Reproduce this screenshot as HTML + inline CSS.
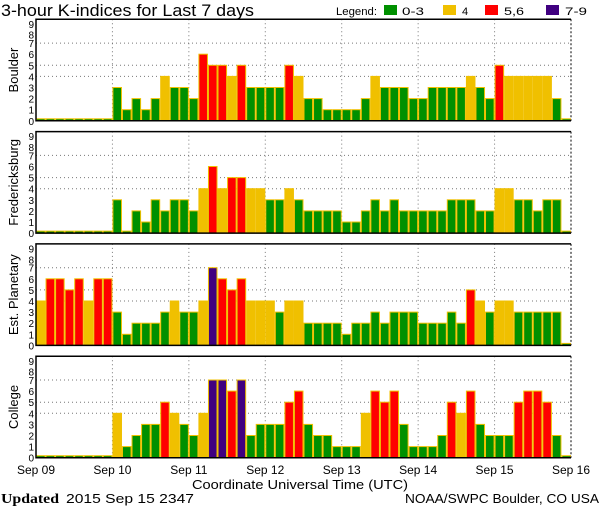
<!DOCTYPE html>
<html><head><meta charset="utf-8"><style>
body{margin:0;background:#fff;}
svg{display:block;font-family:"Liberation Sans",sans-serif;}
</style></head><body>
<svg id="s" width="600" height="510" xmlns="http://www.w3.org/2000/svg">
<text x="1" y="16" font-size="17" fill="#000" textLength="253" lengthAdjust="spacingAndGlyphs">3-hour K-indices for Last 7 days</text>
<text x="336" y="15" font-size="11" textLength="41" lengthAdjust="spacingAndGlyphs">Legend:</text>
<rect x="384" y="5" width="13" height="10" fill="#009000"/><text x="402" y="15" font-size="11" textLength="22" lengthAdjust="spacingAndGlyphs">0-3</text>
<rect x="443" y="5" width="13" height="10" fill="#f0c000"/><text x="462" y="15" font-size="11">4</text>
<rect x="485" y="5" width="13" height="10" fill="#ff0000"/><text x="504" y="15" font-size="11" textLength="20" lengthAdjust="spacingAndGlyphs">5,6</text>
<rect x="546" y="5" width="13" height="10" fill="#400080"/><text x="565" y="15" font-size="11" textLength="22" lengthAdjust="spacingAndGlyphs">7-9</text>
<g id="g"></g>
<text x="192" y="489" font-size="13" textLength="216" lengthAdjust="spacingAndGlyphs">Coordinate Universal Time (UTC)</text>
<text x="1" y="503" font-size="14" font-family="Liberation Serif,serif" font-weight="bold" textLength="58" lengthAdjust="spacingAndGlyphs">Updated</text>
<text x="66" y="503" font-size="13" textLength="128" lengthAdjust="spacingAndGlyphs">2015 Sep 15 2347</text>
<text x="405" y="503" font-size="13" textLength="194" lengthAdjust="spacingAndGlyphs">NOAA/SWPC Boulder, CO USA</text>
</svg>
<script>
var D={
"Boulder":[0,0,0,0,0,0,0,0, 3,1,2,1,2,4,3,3, 2,6,5,5,4,5,3,3, 3,3,5,4,2,2,1,1, 1,1,2,4,3,3,3,2, 2,3,3,3,3,4,3,2, 5,4,4,4,4,4,2,0],
"Fredericksburg":[0,0,0,0,0,0,0,0, 3,0,2,1,3,2,3,3, 2,4,6,4,5,5,4,4, 3,3,4,3,2,2,2,2, 1,1,2,3,2,3,2,2, 2,2,2,3,3,3,2,2, 4,4,3,3,2,3,3,0],
"Est. Planetary":[4,6,6,5,6,4,6,6, 3,1,2,2,2,3,4,3, 3,4,7,6,5,6,4,4, 4,3,4,4,2,2,2,2, 1,2,2,3,2,3,3,3, 2,2,2,3,2,5,4,3, 4,4,3,3,3,3,3,0],
"College":[0,0,0,0,0,0,0,0, 4,1,2,3,3,5,4,3, 2,4,7,7,6,7,2,3, 3,3,5,6,3,2,2,1, 1,1,4,6,5,6,3,1, 1,1,2,5,4,6,3,2, 2,2,5,6,6,5,2,0]};
var g=document.getElementById('g'),h='',L=36,R=571,bw=(R-L)/56,U=11.1;
var names=Object.keys(D);
function col(v){return v<=3?'#009000':v==4?'#f0c000':v<=6?'#ff0000':'#400080';}
names.forEach(function(n,i){
 var top=19.3+112.3*i,bot=top+101.5;
 [4,5,7].forEach(function(k){var y=bot-k*U;h+='<line x1="'+L+'" x2="'+R+'" y1="'+y+'" y2="'+y+'" stroke="#777" stroke-dasharray="1,3"/>';});
 for(var d=1;d<7;d++){var x=L+d*8*bw;h+='<line x1="'+x+'" x2="'+x+'" y1="'+top+'" y2="'+bot+'" stroke="#777" stroke-dasharray="1,3"/>';}
 D[n].forEach(function(v,j){var x=L+j*bw,hh=v==0?2:v*U;
  h+='<rect x="'+(x+0.5)+'" y="'+(bot-hh)+'" width="'+(bw-1)+'" height="'+hh+'" fill="'+col(v)+'" stroke="#f0c000" stroke-width="1"/>';});
 h+='<path d="M'+R+' '+top+'H'+L+'V'+bot+'H'+R+'" fill="none" stroke="#000" stroke-width="1.5"/>';
 h+='<line x1="'+R+'" x2="'+R+'" y1="'+top+'" y2="'+bot+'" stroke="#000" stroke-dasharray="2,2"/>';
 for(var k=0;k<=9;k++){var y=bot-k*U*(k>=8?0.97:1)+4;h+='<text x="34" y="'+y+'" font-size="10" text-anchor="end">'+k+'</text>';}
 var cy=(top+bot)/2;h+='<text x="0" y="0" font-size="13" text-anchor="middle" transform="translate(18,'+cy+') rotate(-90)">'+n+'</text>';
});
['Sep 09','Sep 10','Sep 11','Sep 12','Sep 13','Sep 14','Sep 15','Sep 16'].forEach(function(t,d){h+='<text x="'+(L+d*8*bw)+'" y="474" font-size="12" text-anchor="middle">'+t+'</text>';});
g.innerHTML=h;
</script>
</body></html>
